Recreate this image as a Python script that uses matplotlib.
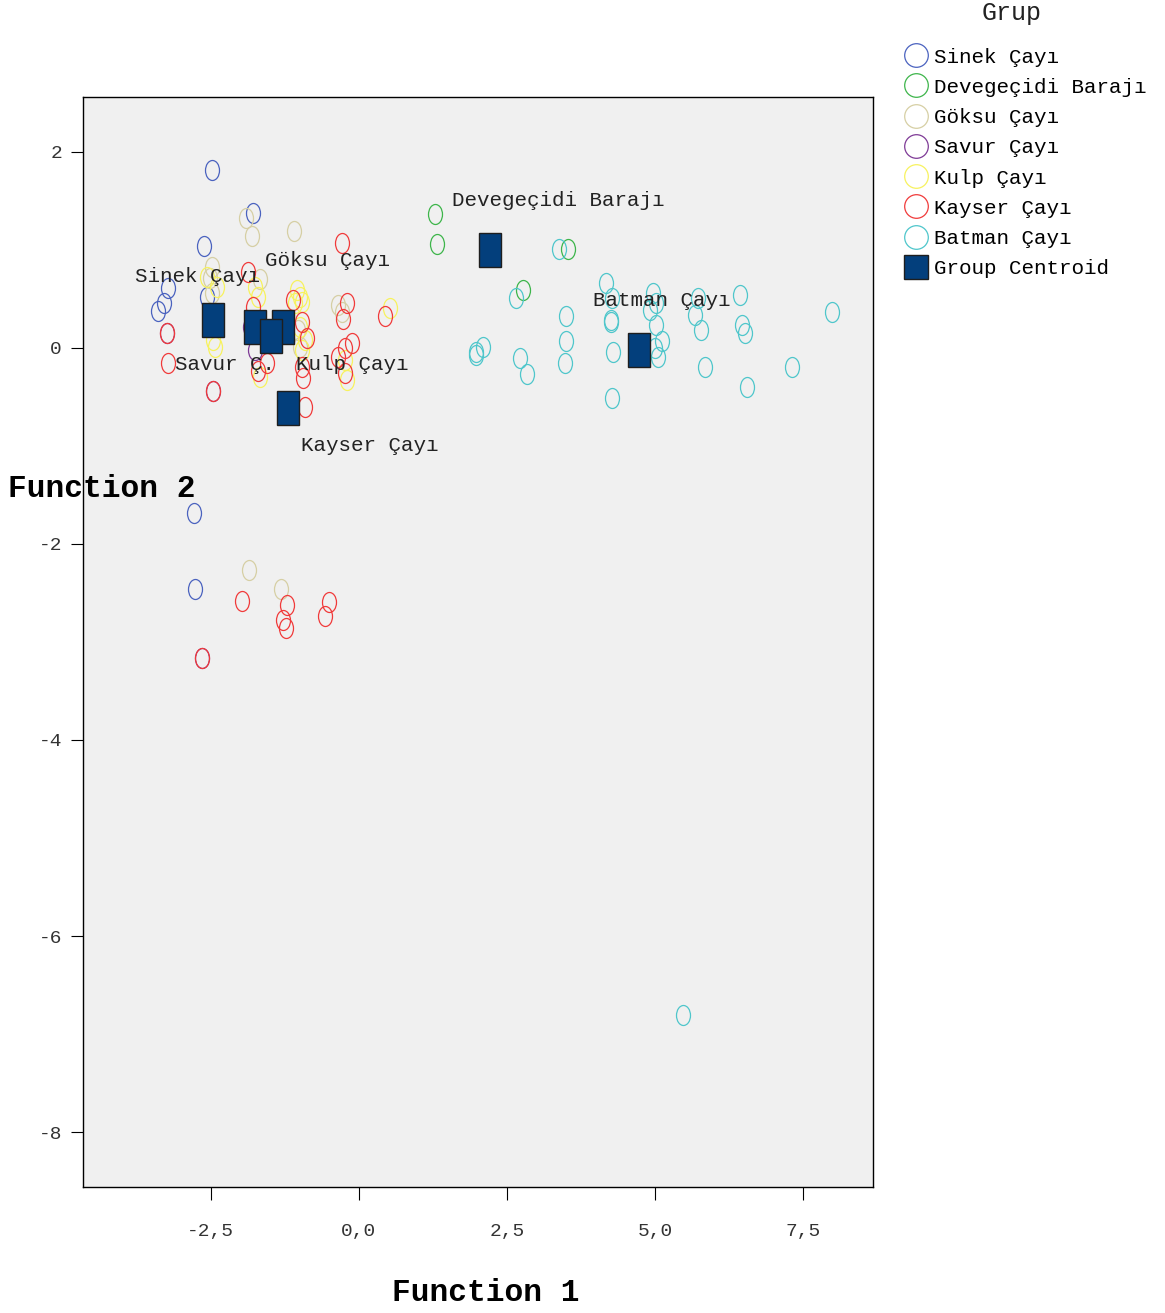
import matplotlib.pyplot as plt
from matplotlib.lines import Line2D
from matplotlib.markers import MarkerStyle
from matplotlib.transforms import Affine2D

plt.rcParams['font.family'] = ['Liberation Mono', 'DejaVu Sans Mono']

# groups, colours
groups = ['Sinek Çayı', 'Devegeçidi Barajı', 'Göksu Çayı', 'Savur Çayı',
          'Kulp Çayı', 'Kayser Çayı', 'Batman Çayı']
colors = ['#4A62BF', '#3DB54A', '#D6CFA4', '#7E3A96', '#F7F25E', '#F03A3A', '#4EC6CB']

# discriminant scores (Function 1, Function 2)
sinek_x = [-2.48, -1.79, -2.62, -3.23, -3.29, -3.40, -2.57, -2.79, -2.77]
sinek_y = [1.81, 1.38, 1.04, 0.61, 0.46, 0.38, 0.52, -1.68, -2.46]

deve_x = [1.28, 1.32, 2.77, 3.53]
deve_y = [1.37, 1.06, 0.59, 1.01]

goksu_x = [-1.91, -1.81, -1.10, -2.48, -1.67, -2.48, -0.35, -0.29, -1.00, -1.03, -1.86, -1.32, -2.52]
goksu_y = [1.32, 1.14, 1.19, 0.82, 0.70, 0.56, 0.44, 0.37, 0.01, 0.18, -2.27, -2.46, 0.71]

savur_x = [-3.24, -2.47, -2.65, -1.84, -1.76, -1.64]
savur_y = [0.15, -0.44, -3.16, 0.21, -0.02, 0.18]

kulp_x = [-2.57, -2.40, -2.43, -2.47, -1.76, -1.71, -1.00, -1.08, -0.96, -1.00, -0.91,
          -0.96, -0.24, -0.20, 0.52, -1.67, -1.05]
kulp_y = [0.72, 0.62, 0.01, 0.08, 0.62, 0.52, 0.52, 0.46, 0.47, 0.21, 0.08,
          -0.02, -0.12, -0.33, 0.41, -0.30, 0.59]

kayser_x = [-0.29, -1.88, -1.11, -0.96, -0.88, -0.27, -0.20, -0.24, -0.35, -0.12, -0.24,
            0.44, -1.79, -1.71, -0.96, -0.95, -1.55, -0.91, -3.24, -3.23, -2.47,
            -1.98, -1.22, -1.28, -1.23, -0.51, -0.57, -2.65]
kayser_y = [1.07, 0.77, 0.49, 0.26, 0.10, 0.29, 0.46, 0.00, -0.09, 0.05, -0.26,
            0.32, 0.42, -0.24, -0.20, -0.31, -0.15, -0.60, 0.15, -0.15, -0.44,
            -2.58, -2.62, -2.78, -2.86, -2.59, -2.74, -3.16]

batman_x = [3.38, 2.65, 2.09, 1.98, 1.98, 2.72, 2.84, 3.50, 3.50, 3.48, 4.17, 4.27,
            4.26, 4.26, 4.29, 4.27, 4.97, 5.02, 4.92, 5.02, 5.12, 5.00, 5.05, 5.73,
            5.68, 5.78, 5.85, 6.44, 6.47, 6.52, 6.55, 7.31, 7.99, 5.47]
batman_y = [1.01, 0.51, 0.01, -0.07, -0.04, -0.10, -0.27, 0.32, 0.07, -0.15, 0.66, 0.51,
            0.28, 0.26, -0.04, -0.51, 0.56, 0.46, 0.39, 0.23, 0.07, 0.00, -0.09, 0.51,
            0.34, 0.18, -0.20, 0.54, 0.23, 0.15, -0.40, -0.20, 0.37, -6.81]

all_x = [sinek_x, deve_x, goksu_x, savur_x, kulp_x, kayser_x, batman_x]
all_y = [sinek_y, deve_y, goksu_y, savur_y, kulp_y, kayser_y, batman_y]

# group centroids and their labels
centroid_x = [-2.47, 2.21, -1.28, -1.76, -1.49, -1.20, 4.73]
centroid_y = [0.28, 1.00, 0.21, 0.21, 0.12, -0.61, -0.02]
centroid_labels = ['Sinek Çayı', 'Devegeçidi Barajı', 'Göksu Çayı', 'Savur Ç.',
                   'Kulp Çayı', 'Kayser Çayı', 'Batman Çayı']
label_x = [-3.78, 1.57, -1.59, -3.11, -1.06, -0.98, 3.95]
label_y = [0.73, 1.50, 0.89, -0.17, -0.17, -1.00, 0.48]

xticks = [-2.5, 0, 2.5, 5, 7.5]
xtick_labels = ['-2,5', '0,0', '2,5', '5,0', '7,5']
yticks = [2, 0, -2, -4, -6, -8]
ytick_labels = ['2', '0', '-2', '-4', '-6', '-8']

fig = plt.figure(figsize=(11.65, 13.13), dpi=100)
ax = fig.add_axes([0.0712, 0.0960, 0.6781, 0.8302])
ax.set_facecolor('#F0F0F0')

ellipse = MarkerStyle('o', transform=Affine2D().scale(0.7, 1.0))
for gx, gy, c in zip(all_x, all_y, colors):
    ax.plot(gx, gy, linestyle='none', marker=ellipse, markersize=14.4,
            markerfacecolor='none', markeredgecolor=c, markeredgewidth=0.9)

rect = MarkerStyle('s', transform=Affine2D().scale(0.64, 1.0))
ax.plot(centroid_x, centroid_y, linestyle='none', marker=rect, markersize=24,
        markerfacecolor='#033F7C', markeredgecolor='#1E1E1E', markeredgewidth=1)

for lx, ly, t in zip(label_x, label_y, centroid_labels):
    ax.text(lx, ly, t, fontsize=15, ha='left', va='center', color='#222222')

ax.set_xlim(-4.66, 8.68)
ax.set_ylim(-8.56, 2.56)
ax.set_xticks(xticks)
ax.set_xticklabels(xtick_labels)
ax.set_yticks(yticks)
ax.set_yticklabels(ytick_labels)
ax.tick_params(axis='x', direction='out', length=9, width=0.8, pad=17,
               labelsize=14, labelcolor='#333333')
ax.tick_params(axis='y', direction='out', length=9, width=0.8, pad=6,
               labelsize=14, labelcolor='#333333')
for s in ax.spines.values():
    s.set_linewidth(1)

fig.text(8 / 1165, 1 - 489 / 1313, 'Function 2', fontsize=22.5, fontweight='bold',
         ha='left', va='center')
fig.text(486 / 1165, 1 - 1293 / 1313, 'Function 1', fontsize=22.5, fontweight='bold',
         ha='center', va='center')

# legend
fig.text(1012 / 1165, 1 - 13 / 1313, 'Grup', fontsize=18, ha='center', va='center',
         color='#222222')
handles = [Line2D([], [], linestyle='none', marker='o', markersize=17,
                  markerfacecolor='none', markeredgecolor=c, markeredgewidth=0.9)
           for c in colors]
handles.append(Line2D([], [], linestyle='none', marker='s', markersize=17,
                      markerfacecolor='#033F7C', markeredgecolor='#1E1E1E'))
leg = fig.legend(handles, groups + ['Group Centroid'], loc='upper left',
                 bbox_to_anchor=(893 / 1165, 1 - 35 / 1313), frameon=False,
                 fontsize=15, handlelength=1.0,
                 handletextpad=0.35, labelspacing=0.54, borderpad=0.1)

fig.savefig('out.png', dpi=100)
